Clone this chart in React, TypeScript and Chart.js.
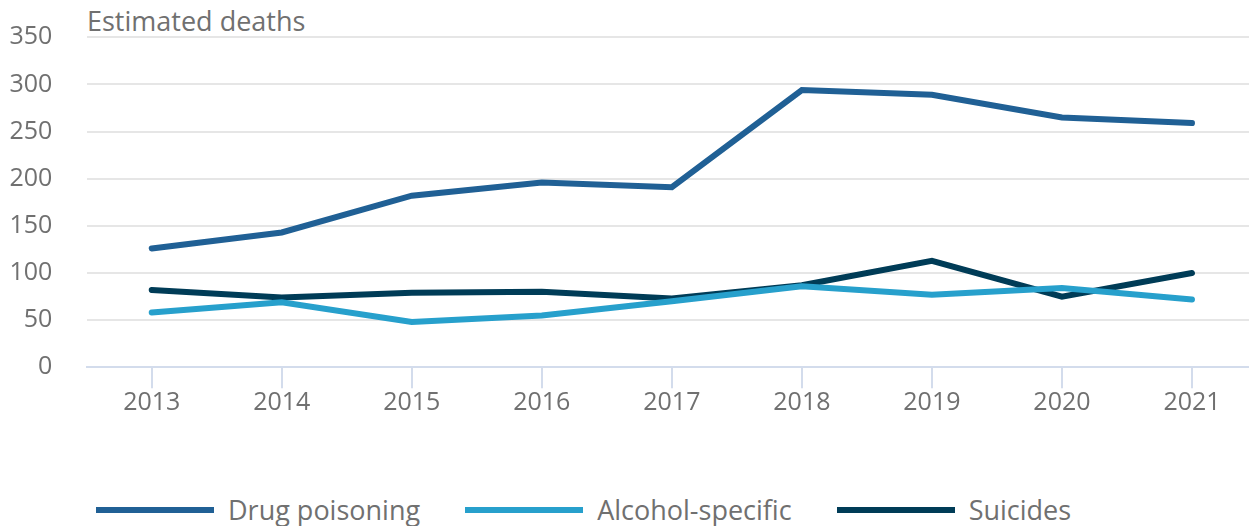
import React, { useEffect, useRef } from "react";
import { Chart, registerables } from "chart.js";

Chart.register(...registerables);

const years = ["2013", "2014", "2015", "2016", "2017", "2018", "2019", "2020", "2021"];
const drugPoisoning = [126, 143, 182, 196, 191, 294, 289, 265, 259];
const alcoholSpecific = [58, 69, 48, 55, 70, 86, 77, 84, 72];
const suicides = [82, 74, 79, 80, 73, 87, 113, 75, 100];
const yTicks = [0, 50, 100, 150, 200, 250, 300, 350];

const seriesNames = ["Drug poisoning", "Alcohol-specific", "Suicides"];
const seriesColors = ["#206095", "#27a0cc", "#003c57"];
const seriesValues = [drugPoisoning, alcoholSpecific, suicides];

const FONT = "'Open Sans', 'Noto Sans', sans-serif";
const TEXT = "#707070";
const CANVAS_W = 1257;
const CANVAS_H = 440;

export default function App() {
  const ref = useRef<HTMLCanvasElement | null>(null);

  useEffect(() => {
    if (!ref.current) return;
    const chart = new Chart(ref.current, {
      type: "line",
      data: {
        labels: years,
        datasets: seriesNames.map((name, i) => ({
          label: name,
          data: seriesValues[i],
          borderColor: seriesColors[i],
          backgroundColor: seriesColors[i],
          borderWidth: 6,
          pointRadius: 0,
          tension: 0,
          borderCapStyle: "round" as const,
          borderJoinStyle: "miter" as const,
          fill: false,
        })),
      },
      options: {
        animation: false,
        responsive: false,
        maintainAspectRatio: false,
        layout: { padding: { top: 37.3, left: 0, right: 0, bottom: 0 } },
        plugins: {
          legend: { display: false },
          tooltip: { enabled: false },
          title: { display: false },
        },
        scales: {
          x: {
            type: "category",
            offset: true,
            grid: {
              display: true,
              drawOnChartArea: false,
              drawTicks: true,
              tickLength: 21,
              color: "#d3dcec",
              lineWidth: 2,
            },
            border: { display: true, color: "#d3dcec", width: 2 },
            ticks: {
              color: TEXT,
              font: { family: FONT, size: 25 },
              padding: 0,
              maxRotation: 0,
              autoSkip: false,
            },
            afterFit: (s: any) => {
              s.height = CANVAS_H - 367.3;
              s.paddingLeft = 0;
              s.paddingRight = 0;
            },
          },
          y: {
            min: 0,
            max: 350,
            afterBuildTicks: (s: any) => {
              s.ticks = yTicks.map((v) => ({ value: v }));
            },
            grid: {
              drawTicks: false,
              lineWidth: 2,
              color: (c: any) => (c.tick && c.tick.value === 0 ? "#d3dcec" : "#e6e6e6"),
            },
            border: { display: false },
            ticks: {
              color: TEXT,
              font: { family: FONT, size: 25 },
              padding: 34.4,
            },
            afterFit: (s: any) => {
              s.width = 86.7;
              s.paddingTop = 0;
              s.paddingBottom = 0;
            },
          },
        },
      },
    });
    return () => chart.destroy();
  }, []);

  return (
    <div
      style={{
        position: "fixed",
        left: 0,
        top: 0,
        width: 1249,
        height: 526,
        overflow: "hidden",
        background: "#fff",
        fontFamily: FONT,
      }}
    >
      <div
        style={{
          position: "absolute",
          left: 87,
          top: 5,
          fontSize: 27,
          color: TEXT,
          lineHeight: "32px",
          whiteSpace: "nowrap",
        }}
      >
        Estimated deaths
      </div>
      <canvas
        ref={ref}
        width={CANVAS_W}
        height={CANVAS_H}
        style={{ position: "absolute", left: 0, top: 0, width: CANVAS_W, height: CANVAS_H }}
      />
      <div
        style={{
          position: "absolute",
          left: 96,
          top: 494,
          display: "flex",
          alignItems: "center",
          height: 32,
          whiteSpace: "nowrap",
        }}
      >
        {seriesNames.map((name, i) => (
          <div key={name} style={{ display: "flex", alignItems: "center", marginRight: 45 }}>
            <div style={{ width: 118, height: 6, background: seriesColors[i], marginRight: 14 }} />
            <span style={{ fontSize: 27, color: TEXT, lineHeight: "32px" }}>{name}</span>
          </div>
        ))}
      </div>
    </div>
  );
}
